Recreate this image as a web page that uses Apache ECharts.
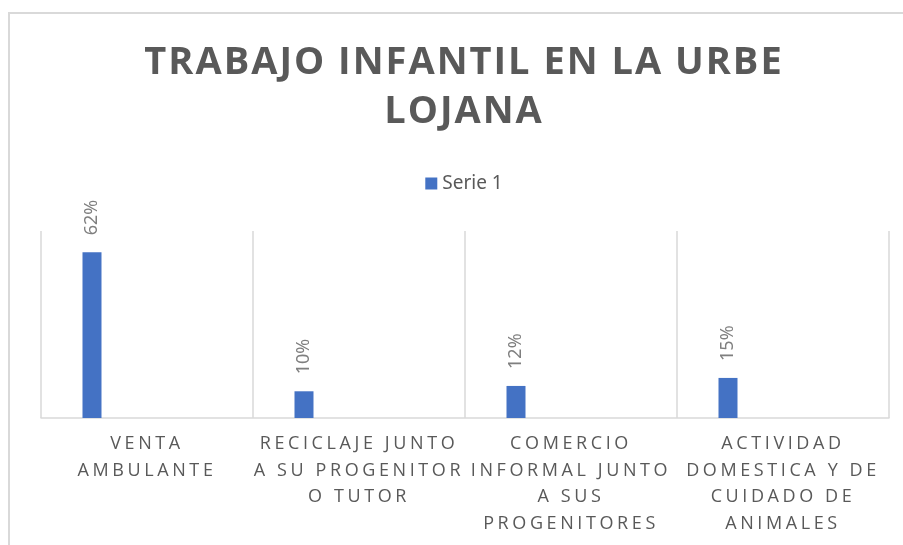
<!DOCTYPE html>
<html>
<head>
<meta charset="utf-8">
<script src="https://cdn.jsdelivr.net/npm/echarts@6/dist/echarts.min.js"></script>
<style>
  html, body { margin: 0; padding: 0; overflow: hidden; background: #fff; }
  /* chart frame is centred at x=464, so the box is a bit wider than the window */
  #chart { width: 928px; height: 545px; }
</style>
</head>
<body>
<div id="chart"></div>
<script>
const categories = [
  'VENTA\nAMBULANTE',
  'RECICLAJE JUNTO\nA SU PROGENITOR\nO TUTOR',
  'COMERCIO\nINFORMAL JUNTO\nA SUS\nPROGENITORES',
  'ACTIVIDAD\nDOMESTICA Y DE\nCUIDADO DE\nANIMALES'
];
const serie1 = [62, 10, 12, 15];
const emptySerie = [null, null, null, null];

// Excel-like character spacing for title and axis labels (Open Sans only)
const spacingFor = (font) => {
  if (font.indexOf('Open Sans') < 0) return '0px';
  return /bold|700/.test(font) ? '2px' : '3.6px';
};
const proto = CanvasRenderingContext2D.prototype;
const origFill = proto.fillText;
const origMeasure = proto.measureText;
proto.fillText = function (t, x, y, m) {
  this.letterSpacing = spacingFor(this.font);
  return m === undefined ? origFill.call(this, t, x, y) : origFill.call(this, t, x, y, m);
};
proto.measureText = function (t) {
  this.letterSpacing = spacingFor(this.font);
  return origMeasure.call(this, t);
};

const chart = echarts.init(document.getElementById('chart'));

const option = {
  animation: false,
  backgroundColor: '#fff',
  graphic: [
    {
      type: 'rect',
      shape: { x: 9, y: 13, width: 2000, height: 2000 },
      style: { fill: 'none', stroke: '#d9d9d9', lineWidth: 2 },
      silent: true
    }
  ],
  title: {
    text: 'TRABAJO INFANTIL EN LA URBE\nLOJANA',
    left: 'center',
    top: 34,
    textStyle: {
      color: '#595959',
      fontFamily: 'Open Sans',
      fontWeight: 'bold',
      fontSize: 38,
      lineHeight: 49
    }
  },
  legend: {
    data: ['Serie 1'],
    top: 169,
    left: 'center',
    icon: 'rect',
    itemWidth: 12,
    itemHeight: 12,
    itemGap: 10,
    textStyle: {
      color: '#595959',
      fontFamily: 'Noto Sans',
      fontSize: 19
    }
  },
  grid: {
    left: 41,
    right: 39,
    top: 231,
    bottom: 127,
    containLabel: false
  },
  xAxis: {
    type: 'category',
    data: categories,
    boundaryGap: true,
    axisLine: { lineStyle: { color: '#d9d9d9', width: 1.5 } },
    axisTick: { show: false },
    splitLine: { show: true, lineStyle: { color: '#d9d9d9', width: 1.5 } },
    axisLabel: {
      interval: 0,
      margin: 13,
      color: '#595959',
      fontFamily: 'Open Sans',
      fontSize: 18,
      lineHeight: 26.5,
      align: 'center'
    }
  },
  yAxis: {
    type: 'value',
    show: false,
    min: 0,
    max: 70,
    splitLine: { show: false }
  },
  series: [
    {
      name: 'Serie 1',
      type: 'bar',
      data: serie1,
      barWidth: 19,
      barGap: '479%',
      itemStyle: { color: '#4472c4' },
      label: {
        show: true,
        position: 'top',
        rotate: 90,
        align: 'left',
        verticalAlign: 'middle',
        distance: 17,
        color: '#7f7f7f',
        fontFamily: 'Noto Sans',
        fontSize: 18,
        formatter: (p) => p.value + '%'
      }
    },
    {
      name: 'Serie 2',
      type: 'bar',
      data: emptySerie,
      barWidth: 19
    }
  ]
};

chart.setOption(option);
</script>
</body>
</html>
